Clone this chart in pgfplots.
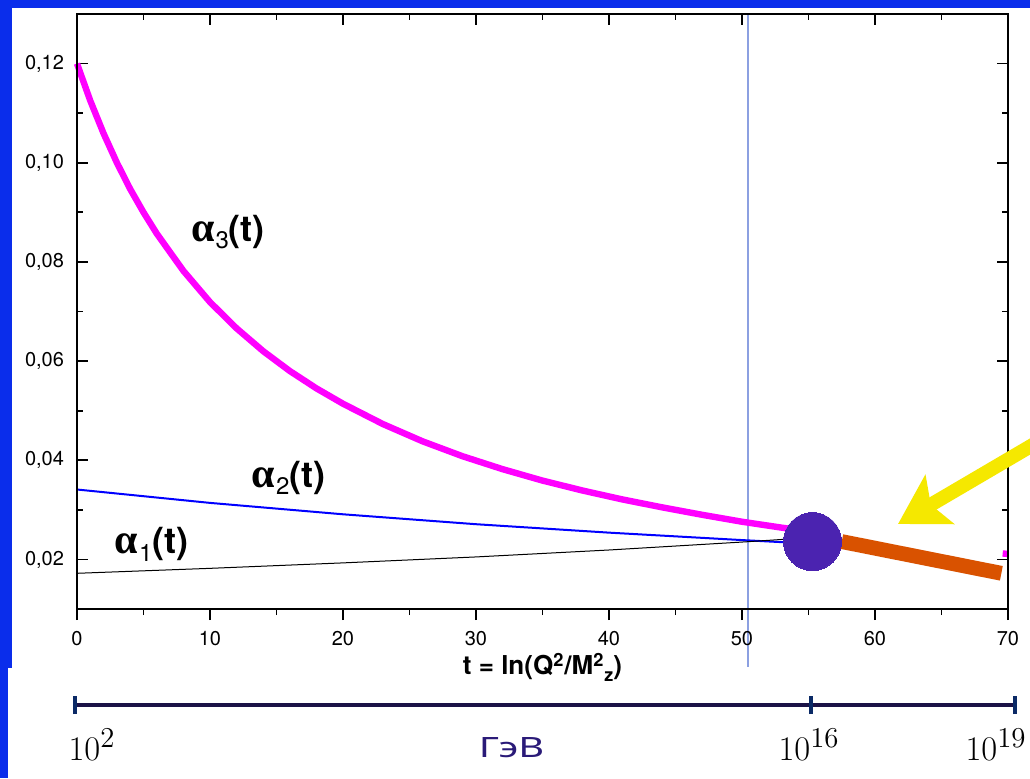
\documentclass[border=0pt]{standalone}
\usepackage{fontspec}
\setmainfont{TeX Gyre Heros}
\newfontfamily\cyrfont{Noto Sans}
\newfontfamily\grfont{Liberation Serif}
\usepackage{pgfplots}
\usepackage{pgfplotstable}
\pgfplotsset{compat=1.18}
\usetikzlibrary{arrows.meta}

\definecolor{slideblue}{RGB}{10,45,235}
\definecolor{magline}{RGB}{255,0,255}
\definecolor{orangebar}{RGB}{217,82,0}
\definecolor{gutpoint}{RGB}{75,35,176}
\definecolor{arrowyellow}{RGB}{245,232,0}
\definecolor{scalenavy}{RGB}{27,18,70}
\definecolor{scaletick}{RGB}{11,42,102}
\definecolor{gevcolor}{RGB}{42,26,120}
\definecolor{markline}{RGB}{140,160,225}

% running couplings
\pgfplotstableread{
t a
0 0.1200
1 0.1125
2 0.1059
3 0.1000
4 0.0947
5 0.0900
6 0.0857
8 0.0782
10 0.0719
12 0.0666
14 0.0620
16 0.0580
18 0.0545
20 0.0514
23 0.0473
26 0.0438
29 0.0408
32 0.0382
35 0.0359
38 0.0339
41 0.0321
44 0.0305
47 0.0290
50 0.0276
53 0.0264
56 0.0253
}\alphathree

\pgfplotstableread{
t a
0 0.0341
10 0.0314
20 0.0291
30 0.0271
40 0.0254
50 0.0239
55 0.0232
}\alphatwo

\pgfplotstableread{
t a
0 0.0172
10 0.0182
20 0.0193
30 0.0205
40 0.0219
50 0.0235
54 0.0242
}\alphaone

\newcommand{\alab}[1]{{\grfont\bfseries\fontsize{21}{21}\selectfont α}\hspace{0.5pt}\raisebox{-0.7ex}{\fontsize{12}{12}\selectfont #1}{\fontsize{18}{18}\selectfont\bfseries(t)}}

\pgfplotsset{
  gutaxis/.style={
    scale only axis, width=465.5pt, height=297.5pt,
    at={(38.5pt,84.5pt)}, anchor=south west,
    xmin=0, xmax=70, ymin=0.01, ymax=0.13,
    axis line style={line width=1pt},
    every tick/.style={black, line width=0.9pt},
    major tick length=5.5pt, minor tick length=3pt,
    xtick={0,10,20,30,40,50,60,70}, minor x tick num=1,
  },
}

\begin{document}
\begin{tikzpicture}
\useasboundingbox (0,0) rectangle (515pt,389pt);
\begin{scope}
\clip (0,0) rectangle (515pt,389pt);
\fill[slideblue] (0,0) rectangle (515pt,389pt);
\fill[white] (6pt,55pt) rectangle (515pt,385pt);
\fill[white] (4pt,0pt) rectangle (515pt,55pt);

\begin{axis}[gutaxis,
    tick align=inside,
    xtick pos=upper, xticklabels={},
    ytick={0.02,0.04,0.06,0.08,0.10,0.12}, minor y tick num=1,
    ytick pos=both, yticklabel pos=left,
    scaled y ticks=false,
    yticklabel style={/pgf/number format/.cd, fixed, fixed zerofill, precision=2,
      use comma, assume math mode=true, /tikz/.cd,
      font=\fontsize{10}{10}\selectfont, xshift=-3pt},
    clip=false]
  \draw[markline, line width=0.6pt] (axis cs:50.45,0.13) -- (axis cs:50.45,-0.0017);
  \addplot[magline, line width=3.2pt, no marks] table[x=t, y=a] {\alphathree};
  \addplot[magline, line width=3.2pt, no marks, line cap=butt] coordinates {(69.6,0.0212) (70,0.0211)};
  \addplot[blue, line width=1pt, no marks] table[x=t, y=a] {\alphatwo};
  \addplot[black, line width=0.5pt, no marks] table[x=t, y=a] {\alphaone};
  \addplot[orangebar, line width=7.4pt, line cap=butt, no marks] coordinates {(57.5,0.0236) (69.5,0.0172)};
  \addplot[gutpoint, only marks, mark=*, mark size=14.5pt, mark options={fill=gutpoint, draw=gutpoint, line width=0pt}] coordinates {(55.3,0.0236)};
  \node at (axis cs:11.35,0.0860) {\alab{3}};
  \node at (axis cs:15.9,0.0365) {\alab{2}};
  \node at (axis cs:5.6,0.0230) {\alab{1}};
\end{axis}

\begin{axis}[gutaxis,
    tick align=outside,
    xtick pos=lower, ytick=\empty,
    xticklabel style={/pgf/number format/assume math mode=true,
      font=\fontsize{10}{10}\selectfont, yshift=-2pt},
    xlabel={\fontsize{13}{13}\selectfont\bfseries t = ln(Q\textsuperscript{2}/M\textsuperscript{2}\raisebox{-0.45ex}{\fontsize{9}{9}\selectfont z})},
    xlabel style={at={(axis description cs:0.5,0)}, anchor=center, yshift=-29pt}]
\end{axis}

% energy scale below the axis
\draw[scalenavy, line width=2pt] (37.5pt,36.5pt) -- (507.5pt,36.5pt);
\foreach \x in {37.5,405.5,507.5}
  \draw[scaletick, line width=1.6pt] (\x pt,32pt) -- (\x pt,41pt);
\node[anchor=base, font=\fontsize{19}{19}\selectfont] at (46pt,9pt) {$10^2$};
\node[anchor=base, font=\fontsize{19}{19}\selectfont] at (404.5pt,9pt) {$10^{16}$};
\node[anchor=base, font=\fontsize{19}{19}\selectfont] at (498pt,9pt) {$10^{19}$};
\node[anchor=base, font=\cyrfont\fontsize{14}{14}\selectfont, text=gevcolor] at (255.75pt,10.5pt) {\scalebox{1.42}[1]{ГэВ}};

% arrow pointing at the unification region
\draw[arrowyellow, line width=7pt, -{Stealth[length=24pt, width=28pt, inset=5pt]}]
  (524pt,171pt) -- (449pt,127pt);
\end{scope}
\end{tikzpicture}
\end{document}
